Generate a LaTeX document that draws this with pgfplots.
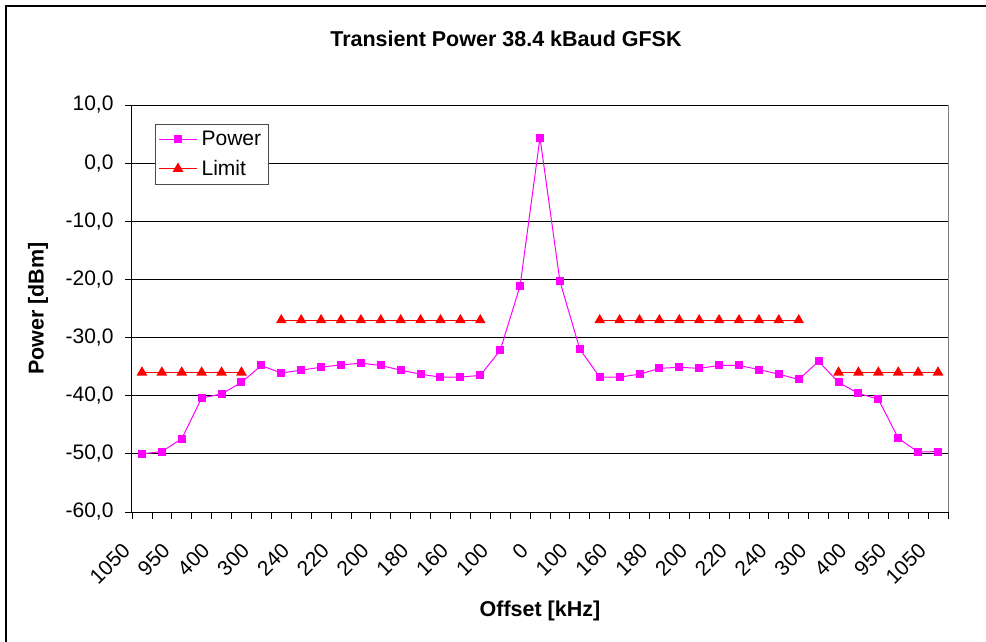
\documentclass[border=0pt]{standalone}
\usepackage{pgfplots}
\pgfplotsset{compat=1.18}
\usepackage{fontspec}
\setmainfont{Liberation Sans}
\definecolor{pmag}{RGB}{255,0,255}
\definecolor{lred}{RGB}{255,0,0}
\pgfplotstableread{
x y
0 -50.0
1 -49.6
2 -47.4
3 -40.4
4 -39.7
5 -37.7
6 -34.8
7 -36.1
8 -35.6
9 -35.1
10 -34.7
11 -34.4
12 -34.8
13 -35.6
14 -36.3
15 -36.8
16 -36.8
17 -36.5
18 -32.2
19 -21.1
20 4.4
21 -20.3
22 -32.0
23 -36.8
24 -36.8
25 -36.3
26 -35.3
27 -35.1
28 -35.3
29 -34.8
30 -34.8
31 -35.5
32 -36.3
33 -37.2
34 -34.1
35 -37.7
36 -39.6
37 -40.6
38 -47.3
39 -49.7
40 -49.6
}\powertable
\pgfplotstableread{
x y
0 -36
1 -36
2 -36
3 -36
4 -36
5 -36
6 nan
7 -27
8 -27
9 -27
10 -27
11 -27
12 -27
13 -27
14 -27
15 -27
16 -27
17 -27
18 nan
23 -27
24 -27
25 -27
26 -27
27 -27
28 -27
29 -27
30 -27
31 -27
32 -27
33 -27
34 nan
35 -36
36 -36
37 -36
38 -36
39 -36
40 -36
}\limittable
\begin{document}
\begin{tikzpicture}[font=\fontsize{21}{25}\selectfont]
\useasboundingbox (0,0) rectangle (986pt,641pt);
\fill[white] (0,0) rectangle (986pt,641pt);
\draw[line width=1.6pt] (6pt,-20pt) -- (6pt,635pt) -- (1010pt,635pt);
\begin{axis}[
  at={(132pt,129pt)}, anchor=south west,
  width=816pt, height=407pt, scale only axis,
  xmin=-0.5, xmax=40.5, ymin=-60, ymax=10,
  axis x line*=bottom, axis y line*=left,
  axis line style={black, line width=1pt},
  axis background/.style={draw=gray, line width=1pt},
  ytick={-60,-50,...,10},
  ymajorgrids, grid style={black, line width=0.8pt},
  tick align=outside, major tick length=7pt,
  tick style={black, line width=0.8pt},
  yticklabel style={xshift=-8pt, /pgf/number format/.cd, fixed, fixed zerofill, precision=1, use comma, assume math mode=true},
  xtick={-0.5,0.5,...,40.5}, xticklabels={},
  extra x ticks={0,2,...,40},
  extra x tick labels={1050,950,400,300,240,220,200,180,160,100,0,100,160,180,200,220,240,300,400,950,1050},
  extra x tick style={tick style={draw=none}, xticklabel style={xshift=-21pt, yshift=-18pt, rotate=45, anchor=north east}},
  title={Transient Power 38.4 kBaud GFSK},
  title style={at={(axis description cs:0.4583,1.1474)}, anchor=center, font=\bfseries\fontsize{21.5}{25}\selectfont},
  xlabel={Offset [kHz]},
  xlabel style={at={(axis description cs:0.5,-0.2432)}, anchor=center, font=\bfseries\fontsize{21.5}{25}\selectfont},
  ylabel={Power [dBm]},
  ylabel style={at={(axis description cs:-0.1152,0.5)}, anchor=center, font=\bfseries\fontsize{21.5}{25}\selectfont},
  legend style={at={(axis description cs:0.0282,0.9533)}, anchor=north west, draw=black!70, line width=0.8pt, fill=white, inner xsep=3pt, inner ysep=5pt, row sep=9pt, font=\fontsize{21}{25}\selectfont, nodes={inner xsep=4pt}},
  legend cell align=left,
  legend image code/.code={\draw[mark repeat=2,mark phase=2,#1] plot coordinates {(0pt,0pt) (19pt,0pt) (38pt,0pt)};},
]
\addplot[color=pmag, line width=1pt, mark=square*, mark size=3.5pt, mark options={solid}] table[x=x,y=y] {\powertable};
\addlegendentry{Power}
\addplot[color=lred, line width=1.2pt, mark=triangle*, mark size=5pt, mark options={solid}, unbounded coords=jump] table[x=x,y=y] {\limittable};
\addlegendentry{Limit}
\end{axis}
\end{tikzpicture}
\end{document}
